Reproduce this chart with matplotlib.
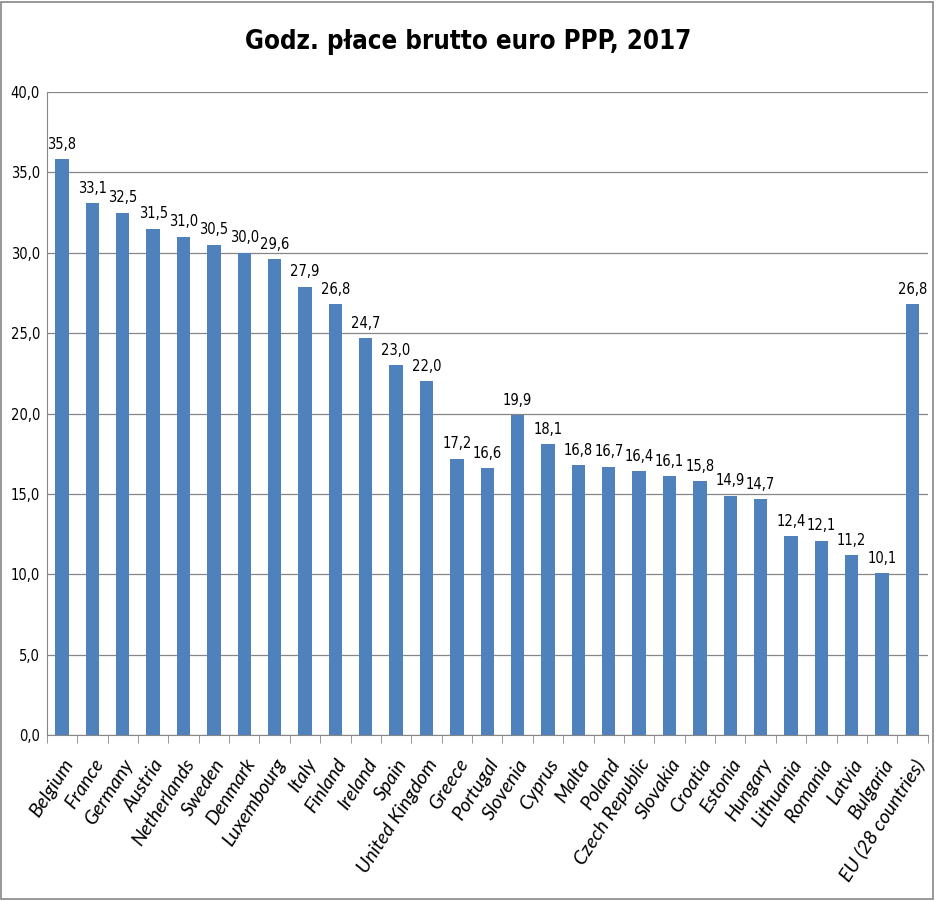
import numpy as np
from matplotlib import pyplot as plt
from matplotlib.patches import Rectangle

countries = ['Belgium', 'France', 'Germany', 'Austria', 'Netherlands', 'Sweden',
             'Denmark', 'Luxembourg', 'Italy', 'Finland', 'Ireland', 'Spain',
             'United Kingdom', 'Greece', 'Portugal', 'Slovenia', 'Cyprus', 'Malta',
             'Poland', 'Czech Republic', 'Slovakia', 'Croatia', 'Estonia', 'Hungary',
             'Lithuania', 'Romania', 'Latvia', 'Bulgaria', 'EU (28 countries)']
wages = [35.8, 33.1, 32.5, 31.5, 31.0, 30.5, 30.0, 29.6, 27.9, 26.8, 24.7, 23.0,
         22.0, 17.2, 16.6, 19.9, 18.1, 16.8, 16.7, 16.4, 16.1, 15.8, 14.9, 14.7,
         12.4, 12.1, 11.2, 10.1, 26.8]
y_ticks = np.arange(0, 45, 5)

plt.rcParams['font.family'] = ['DejaVu Sans']
plt.rcParams['font.stretch'] = 'condensed'

fig = plt.figure(figsize=(9.37, 9.01), dpi=100)
ax = fig.add_axes([0.050, 0.184, 0.940, 0.714])

x = np.arange(len(countries))
ax.bar(x, wages, width=0.44, color='#4F81BD', zorder=3)

for xi, v in zip(x, wages):
    ax.text(xi, v + 0.45, f'{v:.1f}'.replace('.', ','), ha='center', va='bottom',
            fontsize=10.5)

ax.set_xlim(-0.5, len(countries) - 0.5)
ax.set_ylim(0, 40)
ax.set_yticks(y_ticks)
ax.set_yticklabels([f'{t:.1f}'.replace('.', ',') for t in y_ticks], fontsize=10.5)
ax.yaxis.grid(True, color='#868686', linewidth=0.9, zorder=0)
ax.tick_params(axis='y', length=0, pad=5)

ax.set_xticks(x)
ax.set_xticklabels(countries, rotation=57, ha='right', rotation_mode='anchor',
                   fontsize=14, family=['Lato', 'Liberation Sans', 'DejaVu Sans'],
                   style='italic', fontstretch='normal')
ax.set_xticks(np.arange(-0.5, len(countries)), minor=True)
ax.tick_params(axis='x', which='major', length=0, pad=15)
ax.tick_params(axis='x', which='minor', length=6, color='#868686')

for s in ['top', 'right']:
    ax.spines[s].set_visible(False)
ax.spines['left'].set_color('#868686')
ax.spines['bottom'].set_color('#868686')

fig.text(0.5, 0.953, 'Godz. płace brutto euro PPP, 2017', ha='center', va='center',
         fontsize=18.5, fontweight='bold')
fig.patches.append(Rectangle((0.001, 0.002), 0.995, 0.996, transform=fig.transFigure,
                             fill=False, edgecolor='#868686', linewidth=1.2))

fig.savefig('out.png', dpi=100)
